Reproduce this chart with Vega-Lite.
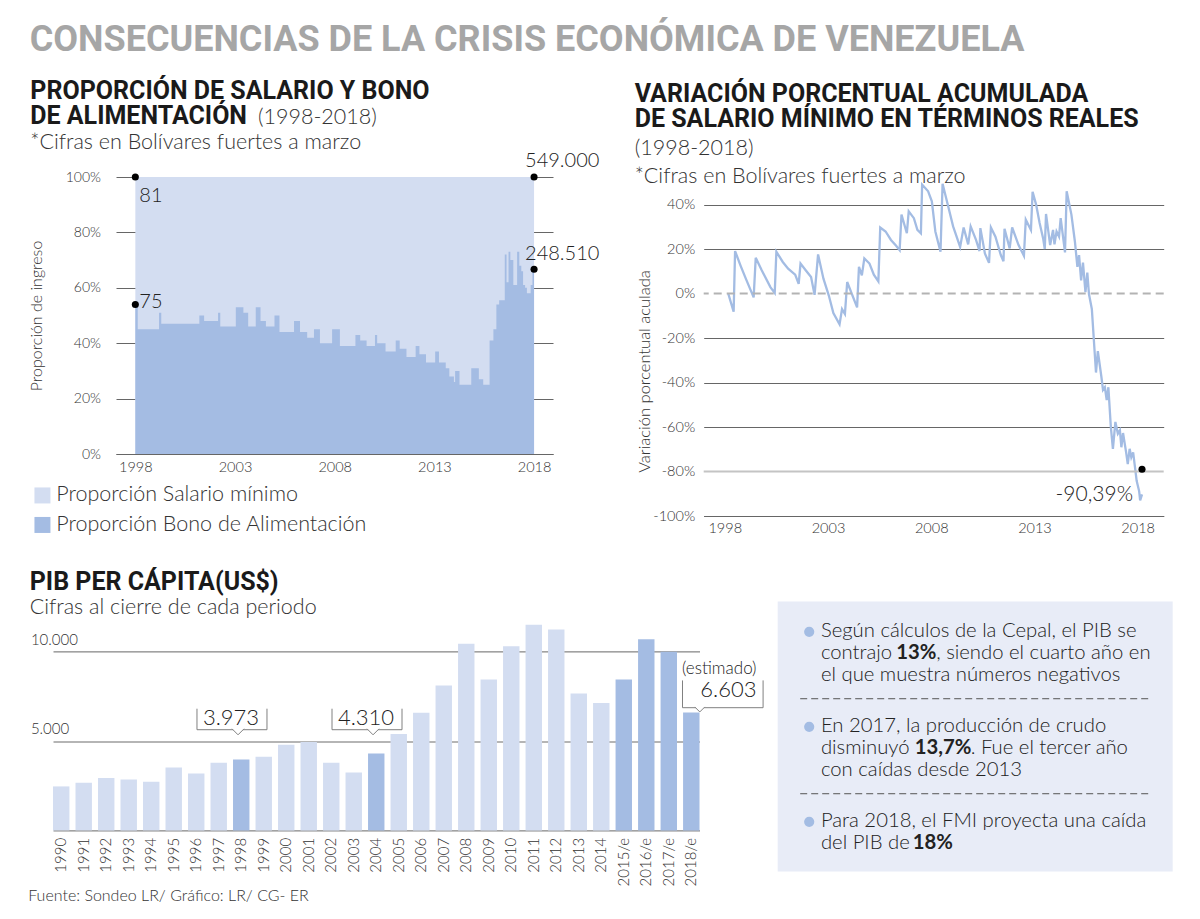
{
  "$schema": "https://vega.github.io/schema/vega-lite/v6.json",
  "background": "white",
  "padding": {"left": 17, "top": 22, "right": 5, "bottom": 5},
  "title": {
    "text": "CONSECUENCIAS DE LA CRISIS ECONÓMICA DE VENEZUELA",
    "fontSize": 36,
    "color": "#a6a6a6",
    "anchor": "start",
    "frame": "bounds",
    "dx": 12.7,
    "offset": 20
  },
  "datasets": {
    "area": [
      {"anio": 1998.00, "bono": 0.54}, {"anio": 1998.12, "bono": 0.45}, {"anio": 1999.19, "bono": 0.51},
      {"anio": 1999.30, "bono": 0.47}, {"anio": 2001.21, "bono": 0.50}, {"anio": 2001.45, "bono": 0.48},
      {"anio": 2002.15, "bono": 0.51}, {"anio": 2002.26, "bono": 0.46}, {"anio": 2003.04, "bono": 0.53},
      {"anio": 2003.42, "bono": 0.51}, {"anio": 2003.66, "bono": 0.46}, {"anio": 2004.04, "bono": 0.53},
      {"anio": 2004.28, "bono": 0.48}, {"anio": 2004.55, "bono": 0.46}, {"anio": 2004.98, "bono": 0.50},
      {"anio": 2005.23, "bono": 0.44}, {"anio": 2005.96, "bono": 0.48}, {"anio": 2006.26, "bono": 0.44},
      {"anio": 2006.62, "bono": 0.42}, {"anio": 2006.96, "bono": 0.45}, {"anio": 2007.26, "bono": 0.40},
      {"anio": 2007.87, "bono": 0.45}, {"anio": 2008.26, "bono": 0.39}, {"anio": 2009.04, "bono": 0.43},
      {"anio": 2009.28, "bono": 0.41}, {"anio": 2009.60, "bono": 0.39}, {"anio": 2010.02, "bono": 0.43},
      {"anio": 2010.13, "bono": 0.40}, {"anio": 2010.55, "bono": 0.37}, {"anio": 2011.06, "bono": 0.41},
      {"anio": 2011.26, "bono": 0.38}, {"anio": 2011.60, "bono": 0.35}, {"anio": 2012.06, "bono": 0.39},
      {"anio": 2012.25, "bono": 0.36}, {"anio": 2012.58, "bono": 0.33}, {"anio": 2013.04, "bono": 0.37},
      {"anio": 2013.23, "bono": 0.33}, {"anio": 2013.57, "bono": 0.31}, {"anio": 2013.75, "bono": 0.28},
      {"anio": 2013.98, "bono": 0.26}, {"anio": 2014.04, "bono": 0.30}, {"anio": 2014.26, "bono": 0.25},
      {"anio": 2014.85, "bono": 0.31}, {"anio": 2015.23, "bono": 0.27}, {"anio": 2015.45, "bono": 0.25},
      {"anio": 2015.77, "bono": 0.41}, {"anio": 2015.96, "bono": 0.45}, {"anio": 2016.11, "bono": 0.54},
      {"anio": 2016.25, "bono": 0.555}, {"anio": 2016.53, "bono": 0.72}, {"anio": 2016.62, "bono": 0.62},
      {"anio": 2016.72, "bono": 0.73}, {"anio": 2016.81, "bono": 0.70}, {"anio": 2016.96, "bono": 0.61},
      {"anio": 2017.15, "bono": 0.73}, {"anio": 2017.26, "bono": 0.68}, {"anio": 2017.36, "bono": 0.66},
      {"anio": 2017.45, "bono": 0.61}, {"anio": 2017.55, "bono": 0.60}, {"anio": 2017.64, "bono": 0.58},
      {"anio": 2017.83, "bono": 0.61}, {"anio": 2017.92, "bono": 0.67}, {"anio": 2018.00, "bono": 0.67}
    ],
    "puntos": [
      {"anio": 1998, "valor": 1, "etiqueta": "81"},
      {"anio": 2018, "valor": 1, "etiqueta": "549.000"},
      {"anio": 1998, "valor": 0.54, "etiqueta": "75"},
      {"anio": 2018, "valor": 0.667, "etiqueta": "248.510"}
    ],
    "linea": [
      {"anio": 1998.17, "variacion": 0}, {"anio": 1998.43, "variacion": -8.2}, {"anio": 1998.50, "variacion": 19.1},
      {"anio": 1998.76, "variacion": 12.7}, {"anio": 1999.02, "variacion": 6.7}, {"anio": 1999.40, "variacion": -1.7},
      {"anio": 1999.50, "variacion": 16.1}, {"anio": 1999.79, "variacion": 10.5}, {"anio": 2000.21, "variacion": 2.9},
      {"anio": 2000.42, "variacion": 0.3}, {"anio": 2000.50, "variacion": 18.8}, {"anio": 2000.81, "variacion": 14.2},
      {"anio": 2001.07, "variacion": 11.2}, {"anio": 2001.41, "variacion": 8.5}, {"anio": 2001.58, "variacion": 4.4},
      {"anio": 2001.67, "variacion": 13.5}, {"anio": 2001.92, "variacion": 10.5}, {"anio": 2002.18, "variacion": 7.4},
      {"anio": 2002.35, "variacion": -0.6}, {"anio": 2002.52, "variacion": 17.6}, {"anio": 2002.78, "variacion": 6.7},
      {"anio": 2003.04, "variacion": -0.9}, {"anio": 2003.26, "variacion": -8.8}, {"anio": 2003.56, "variacion": -13.8},
      {"anio": 2003.68, "variacion": -7}, {"anio": 2003.82, "variacion": -9.2}, {"anio": 2003.93, "variacion": 5.2},
      {"anio": 2004.41, "variacion": -6.2}, {"anio": 2004.50, "variacion": 12}, {"anio": 2004.64, "variacion": 8.2},
      {"anio": 2004.76, "variacion": 15.8}, {"anio": 2005.01, "variacion": 13.5}, {"anio": 2005.22, "variacion": 8.5},
      {"anio": 2005.44, "variacion": 5.5}, {"anio": 2005.53, "variacion": 29.7}, {"anio": 2005.79, "variacion": 27.9},
      {"anio": 2006.05, "variacion": 24.1}, {"anio": 2006.30, "variacion": 21.5}, {"anio": 2006.47, "variacion": 19.5},
      {"anio": 2006.56, "variacion": 35.5}, {"anio": 2006.82, "variacion": 27.1}, {"anio": 2006.91, "variacion": 37},
      {"anio": 2007.16, "variacion": 33.9}, {"anio": 2007.33, "variacion": 28.6}, {"anio": 2007.50, "variacion": 27.1},
      {"anio": 2007.56, "variacion": 49}, {"anio": 2007.85, "variacion": 46}, {"anio": 2008.03, "variacion": 41.5},
      {"anio": 2008.20, "variacion": 27.9}, {"anio": 2008.45, "variacion": 18.8}, {"anio": 2008.55, "variacion": 49.4},
      {"anio": 2008.80, "variacion": 40}, {"anio": 2009.06, "variacion": 30.2}, {"anio": 2009.40, "variacion": 21},
      {"anio": 2009.57, "variacion": 29.7}, {"anio": 2009.79, "variacion": 22.1}, {"anio": 2009.91, "variacion": 30.2},
      {"anio": 2010.17, "variacion": 24.1}, {"anio": 2010.34, "variacion": 19.1}, {"anio": 2010.38, "variacion": 29.4},
      {"anio": 2010.60, "variacion": 18}, {"anio": 2010.80, "variacion": 13.8}, {"anio": 2010.89, "variacion": 29.7},
      {"anio": 2011.11, "variacion": 25.6}, {"anio": 2011.37, "variacion": 17.3}, {"anio": 2011.50, "variacion": 14.5},
      {"anio": 2011.55, "variacion": 29.1}, {"anio": 2011.80, "variacion": 20.3}, {"anio": 2011.92, "variacion": 29.7},
      {"anio": 2012.23, "variacion": 21.8}, {"anio": 2012.49, "variacion": 17}, {"anio": 2012.58, "variacion": 33.2},
      {"anio": 2012.83, "variacion": 28.6}, {"anio": 2012.91, "variacion": 45.8}, {"anio": 2013.08, "variacion": 40},
      {"anio": 2013.25, "variacion": 31.7}, {"anio": 2013.42, "variacion": 24.8}, {"anio": 2013.50, "variacion": 20},
      {"anio": 2013.56, "variacion": 35.8}, {"anio": 2013.76, "variacion": 21.8}, {"anio": 2013.90, "variacion": 28.6},
      {"anio": 2013.97, "variacion": 22.1}, {"anio": 2014.07, "variacion": 27.9}, {"anio": 2014.19, "variacion": 25.6},
      {"anio": 2014.27, "variacion": 33.9}, {"anio": 2014.48, "variacion": 18.5}, {"anio": 2014.56, "variacion": 46},
      {"anio": 2014.79, "variacion": 35.5}, {"anio": 2014.96, "variacion": 23.3}, {"anio": 2015.08, "variacion": 12},
      {"anio": 2015.16, "variacion": 17.3}, {"anio": 2015.26, "variacion": 5.9}, {"anio": 2015.35, "variacion": 13.9},
      {"anio": 2015.47, "variacion": 0.6}, {"anio": 2015.56, "variacion": 9.4}, {"anio": 2015.64, "variacion": -0.2},
      {"anio": 2015.78, "variacion": -7}, {"anio": 2015.98, "variacion": -35.5}, {"anio": 2016.07, "variacion": -25.9},
      {"anio": 2016.24, "variacion": -37.3}, {"anio": 2016.32, "variacion": -43.3}, {"anio": 2016.41, "variacion": -42.1},
      {"anio": 2016.50, "variacion": -47.9}, {"anio": 2016.58, "variacion": -42.1}, {"anio": 2016.70, "variacion": -60},
      {"anio": 2016.80, "variacion": -69.8}, {"anio": 2016.92, "variacion": -57.7}, {"anio": 2017.04, "variacion": -63},
      {"anio": 2017.14, "variacion": -61.5}, {"anio": 2017.21, "variacion": -69.1}, {"anio": 2017.29, "variacion": -62.7},
      {"anio": 2017.44, "variacion": -71.4}, {"anio": 2017.52, "variacion": -76.7}, {"anio": 2017.61, "variacion": -69.8},
      {"anio": 2017.69, "variacion": -73.6}, {"anio": 2017.78, "variacion": -71.4}, {"anio": 2017.86, "variacion": -77.4},
      {"anio": 2017.95, "variacion": -84.2}, {"anio": 2018.07, "variacion": -88.8}, {"anio": 2018.12, "variacion": -93},
      {"anio": 2018.21, "variacion": -90.3}
    ],
    "pib": [
      {"anio": "1990", "pib": 2463}, {"anio": "1991", "pib": 2668}, {"anio": "1992", "pib": 2929},
      {"anio": "1993", "pib": 2854}, {"anio": "1994", "pib": 2724}, {"anio": "1995", "pib": 3526},
      {"anio": "1996", "pib": 3190}, {"anio": "1997", "pib": 3787}, {"anio": "1998", "pib": 3973},
      {"anio": "1999", "pib": 4123}, {"anio": "2000", "pib": 4795}, {"anio": "2001", "pib": 4944},
      {"anio": "2002", "pib": 3787}, {"anio": "2003", "pib": 3246}, {"anio": "2004", "pib": 4310},
      {"anio": "2005", "pib": 5392}, {"anio": "2006", "pib": 6586}, {"anio": "2007", "pib": 8116},
      {"anio": "2008", "pib": 10448}, {"anio": "2009", "pib": 8451}, {"anio": "2010", "pib": 10317},
      {"anio": "2011", "pib": 11511}, {"anio": "2012", "pib": 11250}, {"anio": "2013", "pib": 7668},
      {"anio": "2014", "pib": 7127}, {"anio": "2015/e", "pib": 8451}, {"anio": "2016/e", "pib": 10709},
      {"anio": "2017/e", "pib": 10000}, {"anio": "2018/e", "pib": 6603}
    ],
    "parrafos": [
      {"parrafo": 1, "lineas": ["Según cálculos de la Cepal, el PIB se", "contrajo", "el que muestra números negativos"]},
      {"parrafo": 2, "lineas": ["En 2017, la producción de crudo", "disminuyó", "con caídas desde 2013"]},
      {"parrafo": 3, "lineas": ["Para 2018, el FMI proyecta una caída", "del PIB de"]}
    ]
  },
  "columns": 1,
  "align": "none",
  "spacing": 35.4,
  "concat": [
    {
      "spacing": 0,
      "hconcat": [
        {
          "width": 1,
          "height": 1,
          "data": {"values": []},
          "mark": {"type": "point", "opacity": 0}
        },
        {
          "spacing": 34.7,
          "hconcat": [
            {
              "width": 437,
              "height": 277,
              "title": {
                "text": ["PROPORCIÓN DE SALARIO Y BONO", "DE ALIMENTACIÓN"],
                "subtitle": ["\u200b\u00a0\u00a0\u00a0\u00a0\u00a0\u00a0\u00a0\u00a0\u00a0\u00a0\u00a0\u00a0\u00a0\u00a0\u00a0\u00a0\u00a0\u00a0\u00a0\u00a0\u00a0\u00a0\u00a0\u00a0\u00a0\u00a0\u00a0\u00a0\u00a0\u00a0\u00a0\u00a0\u00a0\u00a0\u00a0\u00a0\u00a0\u00a0\u00a0(1998-2018)", "*Cifras en Bolívares fuertes a marzo"],
                "frame": "group",
                "anchor": "start",
                "dx": -85.7,
                "offset": -2,
                "lineHeight": 25,
                "subtitleLineHeight": 24.5,
                "subtitlePadding": -22
              },
              "layer": [
                {
                  "data": {"name": "area"},
                  "mark": {"type": "area", "interpolate": "step-after"},
                  "encoding": {
                    "x": {
                      "field": "anio", "type": "quantitative",
                      "scale": {"domain": [1997.03, 2018.95], "nice": false, "zero": false},
                      "axis": {"values": [1998, 2003, 2008, 2013, 2018], "format": "d", "labelFontSize": 14.5, "labelPadding": 6, "title": null, "grid": false, "zindex": 1}
                    },
                    "y": {
                      "datum": 1, "type": "quantitative",
                      "scale": {"domain": [0, 1], "nice": false},
                      "axis": {"values": [0, 0.2, 0.4, 0.6, 0.8, 1], "format": ".0%", "labelFontSize": 14, "labelPadding": 15.5, "domain": false, "grid": true, "title": "Proporción de ingreso", "titleFontSize": 16, "titleX": -71.7}
                    },
                    "y2": {"datum": 0},
                    "color": {
                      "datum": "Proporción Salario mínimo", "type": "nominal",
                      "scale": {"domain": ["Proporción Salario mínimo", "Proporción Bono de Alimentación"], "range": ["#d3ddf1", "#a4bce3"]},
                      "legend": {"orient": "none", "legendX": 14.7, "legendY": 307.7, "direction": "vertical", "title": null, "symbolType": "square", "symbolSize": 256, "symbolStrokeWidth": 0, "symbolOpacity": 1, "labelFontSize": 21.5, "labelFont": "Lato", "labelFontWeight": 300, "labelColor": "#333333", "labelOffset": 3, "rowPadding": 6.5, "labelLimit": 400}
                    }
                  }
                },
                {
                  "data": {"name": "area"},
                  "mark": {"type": "area", "interpolate": "step-after"},
                  "encoding": {
                    "x": {"field": "anio", "type": "quantitative"},
                    "y": {"field": "bono", "type": "quantitative"},
                    "color": {"datum": "Proporción Bono de Alimentación", "type": "nominal"}
                  }
                },
                {
                  "data": {"name": "puntos"},
                  "mark": {"type": "circle", "size": 50, "color": "#000000", "opacity": 1},
                  "encoding": {
                    "x": {"field": "anio", "type": "quantitative"},
                    "y": {"field": "valor", "type": "quantitative"}
                  }
                },
                {
                  "data": {"name": "puntos"},
                  "transform": [{"filter": "datum.etiqueta === '81'"}],
                  "mark": {"type": "text", "align": "left", "baseline": "alphabetic", "dx": 4, "dy": 25, "fontSize": 20, "fontWeight": 300, "color": "#222222"},
                  "encoding": {"x": {"field": "anio", "type": "quantitative"}, "y": {"field": "valor", "type": "quantitative"}, "text": {"field": "etiqueta"}}
                },
                {
                  "data": {"name": "puntos"},
                  "transform": [{"filter": "datum.etiqueta === '549.000'"}],
                  "mark": {"type": "text", "align": "left", "baseline": "alphabetic", "dx": -9, "dy": -10, "fontSize": 20, "fontWeight": 300, "color": "#222222"},
                  "encoding": {"x": {"field": "anio", "type": "quantitative"}, "y": {"field": "valor", "type": "quantitative"}, "text": {"field": "etiqueta"}}
                },
                {
                  "data": {"name": "puntos"},
                  "transform": [{"filter": "datum.etiqueta === '75'"}],
                  "mark": {"type": "text", "align": "left", "baseline": "alphabetic", "dx": 4, "dy": 4, "fontSize": 20, "fontWeight": 300, "color": "#222222"},
                  "encoding": {"x": {"field": "anio", "type": "quantitative"}, "y": {"field": "valor", "type": "quantitative"}, "text": {"field": "etiqueta"}}
                },
                {
                  "data": {"name": "puntos"},
                  "transform": [{"filter": "datum.etiqueta === '248.510'"}],
                  "mark": {"type": "text", "align": "left", "baseline": "alphabetic", "dx": -9, "dy": -9, "fontSize": 20, "fontWeight": 300, "color": "#222222"},
                  "encoding": {"x": {"field": "anio", "type": "quantitative"}, "y": {"field": "valor", "type": "quantitative"}, "text": {"field": "etiqueta"}}
                },
                {
                  "data": {"values": [{}]},
                  "mark": {"type": "rule", "strokeOpacity": 0, "strokeWidth": 0},
                  "encoding": {"x": {"datum": 1992.15}, "x2": {"datum": 1992.6}, "y": {"datum": 0}}
                }
              ]
            },
            {
              "width": 460,
              "height": 339,
              "title": {
                "text": ["VARIACIÓN PORCENTUAL ACUMULADA", "DE SALARIO MÍNIMO EN TÉRMINOS REALES"],
                "subtitle": ["(1998-2018)", "*Cifras en Bolívares fuertes a marzo"],
                "frame": "group",
                "anchor": "start",
                "dx": -69,
                "offset": -10,
                "lineHeight": 25,
                "subtitleLineHeight": 28,
                "subtitlePadding": 6
              },
              "layer": [
                {
                  "data": {"name": "linea"},
                  "mark": {"type": "line", "color": "#a3bce3", "strokeWidth": 2.3},
                  "encoding": {
                    "x": {
                      "field": "anio", "type": "quantitative",
                      "scale": {"domain": [1996.98, 2019.26], "nice": false, "zero": false},
                      "axis": {"values": [1998, 2003, 2008, 2013, 2018], "format": "d", "labelFontSize": 14.5, "labelPadding": 5, "title": null, "grid": false, "zindex": 1}
                    },
                    "y": {
                      "field": "variacion", "type": "quantitative",
                      "scale": {"domain": [-100, 52.4], "nice": false},
                      "axis": {
                        "values": [-100, -80, -60, -40, -20, 0, 20, 40],
                        "labelExpr": "datum.value + '%'",
                        "labelFontSize": 14.5, "labelPadding": 9, "domain": false, "grid": true,
                        "gridOpacity": {"condition": {"test": "datum.value === 0 || datum.value === -80", "value": 0}, "value": 1},
                        "title": "Variación porcentual aculada", "titleFontSize": 16.5, "titleX": -51.5, "titleY": 194
                      }
                    }
                  }
                },
                {
                  "data": {"values": [{}]},
                  "mark": {"type": "rule", "color": "#b3b3b3", "strokeWidth": 2, "strokeDash": [8, 5]},
                  "encoding": {"y": {"datum": 0}}
                },
                {
                  "data": {"values": [{}]},
                  "mark": {"type": "rule", "color": "#c4c4c4", "strokeWidth": 2},
                  "encoding": {"y": {"datum": -80}}
                },
                {
                  "data": {"values": [{"anio": 2018.21, "valor": -79, "etiqueta": "-90,39%"}]},
                  "mark": {"type": "circle", "size": 50, "color": "#000000", "opacity": 1},
                  "encoding": {"x": {"field": "anio", "type": "quantitative"}, "y": {"field": "valor", "type": "quantitative"}}
                },
                {
                  "data": {"values": [{"anio": 2018.21, "valor": -79, "etiqueta": "-90,39%"}]},
                  "mark": {"type": "text", "align": "right", "baseline": "alphabetic", "dx": -9, "dy": 32, "fontSize": 21, "fontWeight": 300, "color": "#222222"},
                  "encoding": {"x": {"field": "anio", "type": "quantitative"}, "y": {"field": "valor", "type": "quantitative"}, "text": {"field": "etiqueta"}}
                }
              ]
            }
          ]
        }
      ]
    },
    {
      "title": {
        "text": "PIB PER CÁPITA(US$)",
        "subtitle": "Cifras al cierre de cada periodo",
        "anchor": "start",
        "frame": "bounds",
        "dx": 12.7,
        "offset": -17,
        "subtitlePadding": 1.5
      },
      "spacing": 13.7,
      "hconcat": [
        {
          "width": 717,
          "height": 229,
          "data": {"name": "pib"},
          "encoding": {
            "x": {
              "field": "anio", "type": "nominal", "sort": null,
              "scale": {"range": [36, 682.5], "paddingInner": 0.27, "paddingOuter": 0},
              "axis": {
                "labelAngle": -90, "labelPadding": 7, "labelFontSize": 15,
                "title": "Fuente: Sondeo LR/ Gráfico: LR/ CG- ER",
                "titleX": 10.7, "titleY": 70, "titleAlign": "left", "titleAnchor": "start", "titleBaseline": "alphabetic", "titleFontSize": 16,
                "grid": false
              }
            }
          },
          "layer": [
            {
              "mark": {"type": "bar"},
              "encoding": {
                "y": {
                  "field": "pib", "type": "quantitative",
                  "scale": {"domain": [0, 12822], "nice": false},
                  "axis": {
                    "values": [5000, 10000], "format": ",d",
                    "labelAlign": "left", "labelBaseline": "alphabetic", "labelPadding": -13.4, "labelOffset": -7.5, "labelFontSize": 15,
                    "domain": false, "title": null, "grid": true,
                    "gridColor": {"condition": {"test": "datum.value === 5000", "value": "#b5b5b5"}, "value": "#666666"},
                    "gridWidth": {"condition": {"test": "datum.value === 5000", "value": 2}, "value": 1}
                  }
                },
                "color": {
                  "condition": {"test": "indexof(['1998','2004','2015/e','2016/e','2017/e','2018/e'], datum.anio) >= 0", "value": "#a4bce3"},
                  "value": "#d3ddf1"
                }
              }
            },
            {
              "transform": [{"filter": "datum.anio === '1998' || datum.anio === '2004'"}],
              "mark": {"type": "bar", "width": 70, "xOffset": -9.25, "fill": "transparent", "stroke": "#808080", "strokeWidth": 1, "strokeDash": [0, 70, 112, 0]},
              "encoding": {"y": {"datum": 6814}, "y2": {"datum": 5638}}
            },
            {
              "transform": [{"filter": "datum.anio === '1998' || datum.anio === '2004'"}],
              "mark": {"type": "point", "shape": "M-1,-0.15L0,0.85L1,-0.15", "size": 144, "filled": true, "fill": "#ffffff", "stroke": "#808080", "strokeWidth": 1, "opacity": 1, "xOffset": -3.2},
              "encoding": {"y": {"datum": 5638}}
            },
            {
              "transform": [{"filter": "datum.anio === '1998' || datum.anio === '2004'"}],
              "mark": {"type": "text", "dx": -10.2, "baseline": "alphabetic", "fontSize": 22, "fontWeight": 300, "color": "#222222"},
              "encoding": {"y": {"datum": 5879}, "text": {"field": "pib", "type": "quantitative", "format": ",d"}}
            },
            {
              "transform": [{"filter": "datum.anio === '2018/e'"}],
              "mark": {"type": "bar", "width": 80.6, "xOffset": 31.5, "fill": "transparent", "stroke": "#808080", "strokeWidth": 1, "strokeDash": [0, 80.6, 135.2, 0]},
              "encoding": {"y": {"datum": 8399}, "y2": {"datum": 6870}}
            },
            {
              "transform": [{"filter": "datum.anio === '2018/e'"}],
              "mark": {"type": "point", "shape": "M-1,-0.15L0,0.85L1,-0.15", "size": 100, "filled": true, "fill": "#ffffff", "stroke": "#808080", "strokeWidth": 1, "opacity": 1, "xOffset": 8.5},
              "encoding": {"y": {"datum": 6870}}
            },
            {
              "transform": [{"filter": "datum.anio === '2018/e'"}],
              "mark": {"type": "text", "align": "right", "dx": 65.2, "baseline": "alphabetic", "fontSize": 22, "fontWeight": 300, "color": "#222222"},
              "encoding": {"y": {"datum": 7464}, "text": {"field": "pib", "type": "quantitative", "format": ",d"}}
            },
            {
              "transform": [{"filter": "datum.anio === '2018/e'"}],
              "mark": {"type": "text", "align": "right", "dx": 65.2, "baseline": "alphabetic", "fontSize": 17, "fontWeight": 300, "color": "#222222"},
              "encoding": {"y": {"datum": 8774}, "text": {"value": "(estimado)"}}
            }
          ]
        },
        {
          "width": 395,
          "height": 270,
          "view": {"fill": "#e8ecf7", "stroke": null},
          "encoding": {
            "x": {"datum": 0, "type": "quantitative", "scale": {"domain": [0, 1]}, "axis": null},
            "y": {"field": "parrafo", "type": "ordinal", "scale": {"type": "point", "padding": 0.421, "align": 0.449}, "axis": null}
          },
          "layer": [
            {
              "data": {"name": "parrafos"},
              "transform": [{"filter": "datum.parrafo > 1"}],
              "mark": {"type": "rule", "color": "#555555", "strokeWidth": 1, "strokeDash": [7, 4], "yOffset": -33.6, "xOffset": 22.5, "x2Offset": -20.8},
              "encoding": {"x2": {"datum": 1}}
            },
            {
              "data": {"name": "parrafos"},
              "mark": {"type": "circle", "size": 104, "color": "#a3bce3", "opacity": 1, "xOffset": 31.5, "yOffset": -5.5}
            },
            {
              "data": {"name": "parrafos"},
              "mark": {"type": "text", "align": "left", "baseline": "alphabetic", "dx": 43.2, "lineHeight": 22, "fontSize": 20.3, "fontWeight": 300, "color": "#222222"},
              "encoding": {"text": {"field": "lineas"}}
            },
            {
              "data": {"values": [{"parrafo": 1, "texto": "13%"}]},
              "mark": {"type": "text", "align": "left", "baseline": "alphabetic", "dx": 118.5, "dy": 22, "fontSize": 20.3, "fontWeight": "bold", "color": "#222222"},
              "encoding": {"text": {"field": "texto"}}
            },
            {
              "data": {"values": [{"parrafo": 1, "texto": ", siendo el cuarto año en"}]},
              "mark": {"type": "text", "align": "left", "baseline": "alphabetic", "dx": 158.5, "dy": 22, "fontSize": 20.3, "fontWeight": 300, "color": "#222222"},
              "encoding": {"text": {"field": "texto"}}
            },
            {
              "data": {"values": [{"parrafo": 2, "texto": "13,7%"}]},
              "mark": {"type": "text", "align": "left", "baseline": "alphabetic", "dx": 137, "dy": 22, "fontSize": 20.3, "fontWeight": "bold", "color": "#222222"},
              "encoding": {"text": {"field": "texto"}}
            },
            {
              "data": {"values": [{"parrafo": 2, "texto": ". Fue el tercer año"}]},
              "mark": {"type": "text", "align": "left", "baseline": "alphabetic", "dx": 193, "dy": 22, "fontSize": 20.3, "fontWeight": 300, "color": "#222222"},
              "encoding": {"text": {"field": "texto"}}
            },
            {
              "data": {"values": [{"parrafo": 3, "texto": "18%"}]},
              "mark": {"type": "text", "align": "left", "baseline": "alphabetic", "dx": 135.1, "dy": 22, "fontSize": 20.3, "fontWeight": "bold", "color": "#222222"},
              "encoding": {"text": {"field": "texto"}}
            }
          ]
        }
      ]
    }
  ],
  "config": {
    "font": "Lato",
    "view": {"stroke": null},
    "axis": {
      "labelFont": "Lato", "labelFontWeight": 300, "labelColor": "#333333",
      "titleFont": "Lato", "titleFontWeight": 300, "titleColor": "#333333",
      "ticks": false, "tickSize": 0,
      "domainColor": "#666666", "gridColor": "#666666"
    },
    "legend": {"labelFont": "Lato"},
    "title": {
      "font": "Roboto",
      "fontWeight": "bold",
      "fontSize": 25,
      "color": "#1a1a1a",
      "anchor": "start",
      "subtitleFont": "Lato",
      "subtitleFontWeight": 300,
      "subtitleFontSize": 21.5,
      "subtitleColor": "#333333"
    },
    "locale": {
      "number": {"decimal": ",", "thousands": ".", "grouping": [3], "currency": ["$", ""]}
    }
  }
}
